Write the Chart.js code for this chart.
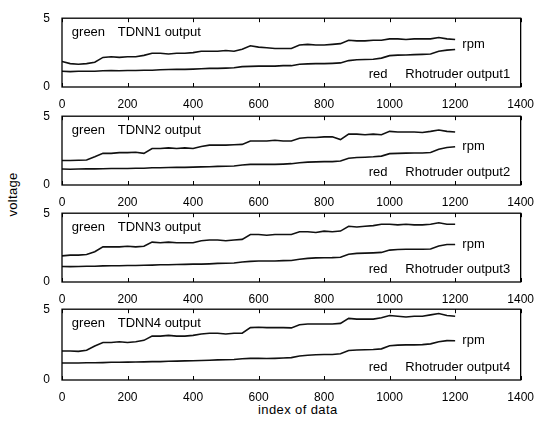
<!DOCTYPE html>
<html>
<head>
<meta charset="utf-8">
<script src="https://cdn.jsdelivr.net/npm/chart.js@4.4.0/dist/chart.umd.min.js"></script>
<style>
  body { margin: 0; background: #fff; width: 536px; height: 424px; position: relative; overflow: hidden;
         font-family: "Liberation Sans", Arial, sans-serif; }
  canvas { position: absolute; left: 0; }
  #xlab { position: absolute; left: 258px; top: 402px; font-size: 13px; letter-spacing: 0.4px; }
  #ylab { position: absolute; left: -10px; top: 187px; font-size: 13px; letter-spacing: 0.3px; transform: rotate(-90deg); }
</style>
</head>
<body>
<div id="xlab">index of data</div>
<div id="ylab">voltage</div>
<script>
'use strict';

// sample index (x values)
const sampleIndex = [0, 25, 50, 75, 100, 125, 150, 175, 200, 225, 250, 275, 300, 325, 350, 375, 400, 425,
  450, 475, 500, 525, 550, 575, 600, 625, 650, 675, 700, 725, 750, 775, 800, 825, 850, 875, 900, 925,
  950, 975, 1000, 1025, 1050, 1075, 1100, 1125, 1150, 1175, 1200];

// TDNN outputs ("green")
const tdnn1 = [1.85, 1.7, 1.65, 1.7, 1.8, 2.15, 2.2, 2.15, 2.2, 2.2, 2.3, 2.45, 2.45, 2.4, 2.45, 2.45, 2.5, 2.6,
  2.6, 2.6, 2.65, 2.6, 2.75, 3.0, 2.9, 2.85, 2.8, 2.8, 2.8, 3.05, 3.1, 3.05, 3.05, 3.1, 3.15, 3.4, 3.35, 3.35,
  3.4, 3.4, 3.5, 3.5, 3.45, 3.5, 3.5, 3.5, 3.6, 3.5, 3.45];
const tdnn2 = [1.78, 1.78, 1.8, 1.82, 2.05, 2.3, 2.3, 2.35, 2.35, 2.38, 2.3, 2.65, 2.65, 2.7, 2.65, 2.7, 2.65, 2.8,
  2.9, 2.9, 2.9, 2.92, 2.95, 3.2, 3.2, 3.2, 3.25, 3.2, 3.2, 3.4, 3.45, 3.45, 3.5, 3.5, 3.3, 3.7, 3.7, 3.65,
  3.7, 3.65, 3.9, 3.85, 3.85, 3.85, 3.82, 3.9, 4.0, 3.9, 3.85];
const tdnn3 = [1.9, 1.95, 1.95, 2.0, 2.2, 2.55, 2.55, 2.55, 2.6, 2.55, 2.6, 2.9, 2.85, 2.9, 2.85, 2.85, 2.85, 3.0,
  3.05, 3.05, 3.0, 3.05, 3.1, 3.45, 3.45, 3.4, 3.45, 3.45, 3.45, 3.65, 3.65, 3.6, 3.7, 3.65, 3.7, 4.05, 4.0, 4.05,
  4.1, 4.2, 4.2, 4.15, 4.2, 4.15, 4.15, 4.2, 4.3, 4.2, 4.2];
const tdnn4 = [2.05, 2.05, 2.02, 2.1, 2.4, 2.65, 2.65, 2.7, 2.65, 2.7, 2.8, 3.1, 3.1, 3.15, 3.1, 3.1, 3.15, 3.25,
  3.3, 3.3, 3.25, 3.3, 3.3, 3.7, 3.72, 3.7, 3.7, 3.7, 3.68, 3.9, 3.95, 3.95, 3.95, 3.95, 4.0, 4.35, 4.3, 4.3,
  4.3, 4.4, 4.55, 4.5, 4.45, 4.5, 4.5, 4.6, 4.7, 4.55, 4.5];

// Rhotruder outputs ("red")
const rho1 = [1.15, 1.12, 1.15, 1.15, 1.15, 1.18, 1.2, 1.18, 1.2, 1.2, 1.22, 1.22, 1.25, 1.27, 1.28, 1.28, 1.3, 1.33,
  1.35, 1.35, 1.37, 1.4, 1.48, 1.5, 1.52, 1.52, 1.52, 1.55, 1.55, 1.65, 1.68, 1.7, 1.7, 1.72, 1.75, 1.92, 1.98, 2.0,
  2.02, 2.1, 2.28, 2.32, 2.33, 2.35, 2.37, 2.4, 2.6, 2.68, 2.72];
const rho2 = [1.16, 1.15, 1.16, 1.17, 1.17, 1.18, 1.2, 1.2, 1.2, 1.22, 1.22, 1.25, 1.25, 1.27, 1.28, 1.28, 1.3, 1.32,
  1.33, 1.35, 1.36, 1.38, 1.45, 1.5, 1.5, 1.5, 1.5, 1.52, 1.55, 1.62, 1.66, 1.68, 1.7, 1.7, 1.74, 1.95, 2.0, 2.02,
  2.05, 2.1, 2.28, 2.3, 2.32, 2.33, 2.33, 2.36, 2.6, 2.72, 2.78];
const rho3 = [1.13, 1.12, 1.13, 1.15, 1.15, 1.17, 1.18, 1.18, 1.2, 1.2, 1.22, 1.23, 1.25, 1.25, 1.27, 1.28, 1.3, 1.3,
  1.32, 1.35, 1.36, 1.38, 1.45, 1.5, 1.53, 1.53, 1.53, 1.55, 1.56, 1.65, 1.72, 1.75, 1.76, 1.77, 1.8, 2.02, 2.08, 2.1,
  2.12, 2.15, 2.32, 2.36, 2.38, 2.38, 2.38, 2.4, 2.62, 2.72, 2.73];
const rho4 = [1.2, 1.2, 1.2, 1.22, 1.22, 1.23, 1.25, 1.25, 1.26, 1.27, 1.28, 1.3, 1.3, 1.32, 1.33, 1.35, 1.36, 1.38,
  1.4, 1.42, 1.43, 1.45, 1.5, 1.53, 1.53, 1.52, 1.53, 1.55, 1.58, 1.7, 1.75, 1.78, 1.8, 1.8, 1.85, 2.08, 2.12, 2.14,
  2.15, 2.2, 2.42, 2.46, 2.48, 2.48, 2.5, 2.55, 2.7, 2.78, 2.77];

const tdnnSeries = [tdnn1, tdnn2, tdnn3, tdnn4];
const rhoSeries = [rho1, rho2, rho3, rho4];
const panelNames = ['1', '2', '3', '4'];
const rpmLevel = [3.1, 2.78, 2.7, 2.78];

const xTickStep = 200;
const xMax = 1400;
const yMax = 5;

// panel boxes on the page (top / bottom of plot area)
const panelTop = [15, 113, 210, 306];
const panelBottom = [87, 185, 282, 380];

const FONT = '"Liberation Sans", Arial, sans-serif';

const boxPlugin = {
  id: 'box',
  afterDatasetsDraw(chart, args, opts) {
    const ctx = chart.ctx;
    const a = chart.chartArea;
    const x = chart.scales.x;
    const y = chart.scales.y;
    ctx.save();
    ctx.strokeStyle = '#000';
    ctx.lineWidth = 1.3;
    ctx.strokeRect(a.left, a.top, a.right - a.left, a.bottom - a.top);
    ctx.lineWidth = 1;
    x.ticks.forEach(t => {
      let px = Math.round(x.getPixelForValue(t.value)) + 0.5;
      ctx.beginPath();
      ctx.moveTo(px, a.bottom); ctx.lineTo(px, a.bottom - 4);
      ctx.moveTo(px, a.top); ctx.lineTo(px, a.top + 4);
      ctx.stroke();
    });
    // notes
    ctx.fillStyle = '#000';
    ctx.font = '13px ' + FONT;
    ctx.textBaseline = 'middle';
    opts.notes.forEach(n => {
      ctx.fillText(n.text, x.getPixelForValue(n.x), y.getPixelForValue(n.y));
    });
    ctx.restore();
  }
};

const padTop = 8;
const xAxisH = 22;

for (let i = 0; i < 4; i++) {
  let h = panelBottom[i] - panelTop[i] + padTop + xAxisH;
  let cv = document.createElement('canvas');
  cv.width = 536;
  cv.height = h;
  cv.style.top = (panelTop[i] - padTop) + 'px';
  document.body.appendChild(cv);

  let tdnnData = sampleIndex.map((v, k) => ({ x: v, y: tdnnSeries[i][k] }));
  let rhoData = sampleIndex.map((v, k) => ({ x: v, y: rhoSeries[i][k] }));

  new Chart(cv.getContext('2d'), {
    type: 'line',
    data: {
      datasets: [{
        label: 'TDNN' + panelNames[i] + ' output',
        data: tdnnData,
        borderColor: '#111',
        borderWidth: 1.6,
        pointRadius: 0,
        tension: 0
      },
      {
        label: 'Rhotruder output' + panelNames[i],
        data: rhoData,
        borderColor: '#111',
        borderWidth: 1.6,
        pointRadius: 0,
        tension: 0
      }]
    },
    options: {
      responsive: false,
      animation: false,
      layout: { padding: { top: padTop, right: 14, left: 0, bottom: 0 } },
      plugins: {
        legend: { display: false },
        tooltip: { enabled: false },
        box: {
          notes: [
            { text: 'green', x: 30, y: 4.0 },
            { text: 'TDNN' + panelNames[i] + ' output', x: 170, y: 4.0 },
            { text: 'rpm', x: 1222, y: rpmLevel[i] },
            { text: 'red', x: 936, y: 0.88 },
            { text: 'Rhotruder output' + panelNames[i], x: 1048, y: 0.88 }
          ]
        }
      },
      scales: {
        x: {
          type: 'linear',
          min: 0,
          max: xMax,
          grid: { display: false },
          border: { display: false },
          ticks: {
            stepSize: xTickStep, color: '#000', font: { size: 12, family: FONT }, padding: 2, maxRotation: 0,
            callback: v => String(v)
          },
          afterFit(s) { s.height = xAxisH; }
        },
        y: {
          min: 0,
          max: yMax,
          grid: { display: false },
          border: { display: false },
          ticks: { stepSize: yMax, color: '#000', font: { size: 12, family: FONT }, padding: 4 },
          afterFit(s) { s.width = 62; }
        }
      }
    },
    plugins: [boxPlugin]
  });
}
</script>
</body>
</html>
